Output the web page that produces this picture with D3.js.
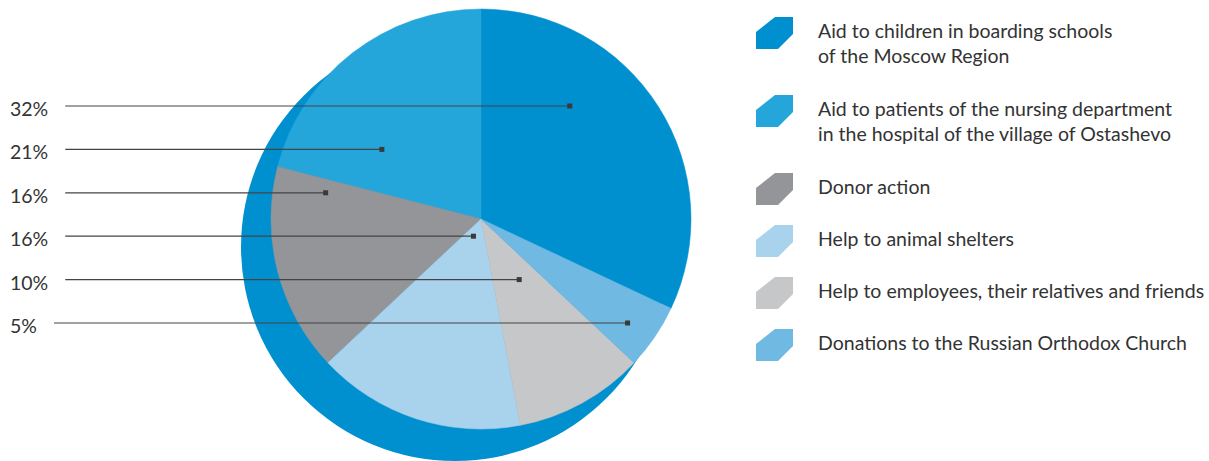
<!DOCTYPE html>
<html>
<head>
<meta charset="utf-8">
<script src="https://cdn.jsdelivr.net/npm/d3@7"></script>
<style>
  body { margin: 0; background: #fff; }
  text { font-family: Lato, "Noto Sans", sans-serif; fill: #333; }
</style>
</head>
<body>
<div class="graph"></div>
<script>
// data, in legend order
var categories = [
  ["Aid to children in boarding schools", "of the Moscow Region"],
  ["Aid to patients of the nursing department", "in the hospital of the village of Ostashevo"],
  ["Donor action"],
  ["Help to animal shelters"],
  ["Help to employees, their relatives and friends"],
  ["Donations to the Russian Orthodox Church"]
];
var shares = [32, 21, 16, 16, 10, 5];
var colors = ["#0090cf", "#25a6da", "#939598", "#a9d2ec", "#c6c7c9", "#6fb9e2"];

var W = 1209, H = 461;
var cx = 481, cy = 219, R = 210;
var TAU = Math.PI * 2;

var svg = d3.select(".graph").append("svg")
  .attr("width", W)
  .attr("height", H);

// shadow disc behind the pie
svg.append("circle")
  .attr("cx", cx - 26)
  .attr("cy", cy + 28)
  .attr("r", R + 4)
  .attr("fill", colors[0]);

// first slice runs clockwise from 12 o'clock, the rest go counterclockwise from there
var total = d3.sum(shares);
var a0 = TAU * shares[0] / total;
var pie = d3.pie().sort(null).value(function(d) { return d; })
  .startAngle(a0).endAngle(a0 - TAU);
var arcs = pie(shares);
var arc = d3.arc().innerRadius(0).outerRadius(R);

var g = svg.append("g").attr("transform", "translate(" + cx + "," + cy + ")");
g.selectAll("path")
  .data(arcs)
  .enter().append("path")
  .attr("d", arc)
  .attr("fill", function(d, i) { return colors[i]; })
  .attr("stroke", function(d, i) { return colors[i]; })
  .attr("stroke-width", 0.5);

// rows for the percent labels
var rowY = d3.scalePoint().domain(d3.range(shares.length)).range([106, 323]);

// x where a horizontal line at y sits inside a slice: midpoint of the chord part inside it
function anchorX(d, y) {
  var dy = y - cy;
  var lo = Math.min(d.startAngle, d.endAngle), hi = Math.max(d.startAngle, d.endAngle);
  var half = Math.sqrt(R * R - dy * dy);
  var xs = [];
  for (var x = -half; x <= half; x += 0.5) {
    var a = Math.atan2(x, -dy);
    while (a < lo) a += TAU;
    while (a > hi) a -= TAU;
    if (a >= lo && a <= hi) xs.push(x);
  }
  if (!xs.length) return cx;
  return cx + (d3.min(xs) + d3.max(xs)) / 2;
}

var labels = svg.append("g");
arcs.forEach(function(d, i) {
  var y = rowY(i);
  var t = labels.append("text")
    .attr("x", 10)
    .attr("y", y + 10)
    .style("font-size", "19.5px")
    .text(shares[i] + "%");
  var x0 = 10 + t.node().getComputedTextLength() + 17;
  var x1 = anchorX(d, y);
  labels.append("line")
    .attr("x1", x0).attr("x2", x1)
    .attr("y1", y).attr("y2", y)
    .attr("stroke", "#444")
    .attr("stroke-width", 1.2);
  labels.append("rect")
    .attr("x", x1 - 2.5).attr("y", y - 2.5)
    .attr("width", 5).attr("height", 5)
    .attr("fill", "#3a3a3a");
});

// legend
var legend = svg.append("g").attr("transform", "translate(756,0)");
var iconPath = "M0,15L19,0L37,0L37,17L22,32L0,32Z";
var rowTop = 17;
categories.forEach(function(lines, i) {
  var row = legend.append("g").attr("transform", "translate(0," + rowTop + ")");
  row.append("path").attr("d", iconPath).attr("fill", colors[i]);
  var txt = row.append("text")
    .attr("x", 62)
    .attr("y", 21)
    .style("font-size", "19.5px");
  lines.forEach(function(s, j) {
    txt.append("tspan").attr("x", 62).attr("dy", j ? 25 : 0).text(s);
  });
  rowTop += 52 + (lines.length - 1) * 26;
});
</script>
</body>
</html>
